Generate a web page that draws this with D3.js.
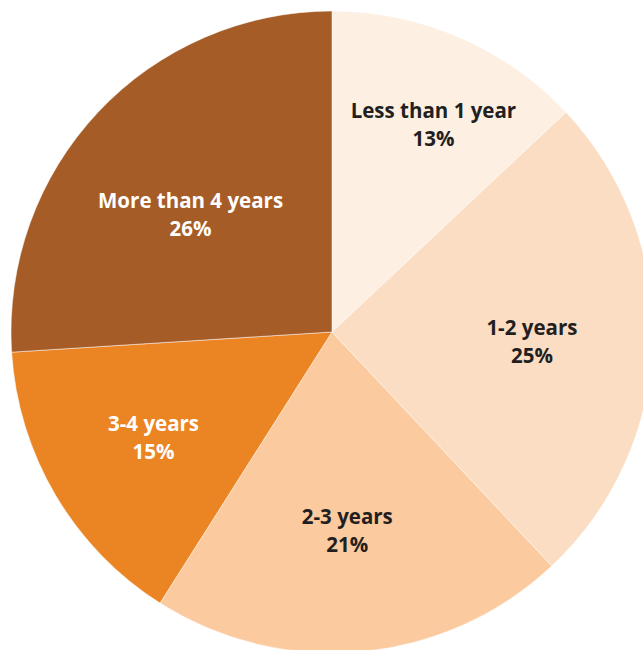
<!DOCTYPE html>
<html>
<head>
<meta charset="utf-8">
<script src="https://cdn.jsdelivr.net/npm/d3@7"></script>
<style>
  body { margin: 0; background: #fff; }
  svg { display: block; }
  text { font-family: "Open Sans", "DejaVu Sans", sans-serif; font-weight: 700; }
</style>
</head>
<body>
<svg width="643" height="650"></svg>
<script>
var categories = ["Less than 1 year", "1-2 years", "2-3 years", "3-4 years", "More than 4 years"];
var shares = [13, 25, 21, 15, 26];
var colors = ["#fdefe2", "#fbddc3", "#fbca9e", "#eb8423", "#a65c27"];
var textColors = ["#231f20", "#231f20", "#231f20", "#ffffff", "#ffffff"];

// label nudges off the arc centroid (layout only)
var labelNudge = [[20, -19], [-5, 4], [-4, -5], [-2, 2], [8, 23]];

var svg = d3.select("svg");
var cx = 332, cy = 332, radius = 321;

var data = categories.map(function(c, i){
  return {name: c, value: shares[i], fill: colors[i], ink: textColors[i], nudge: labelNudge[i]};
});

var pie = d3.pie().sort(null).value(function(d){ return d.value; });
var arc = d3.arc().innerRadius(0).outerRadius(radius);
var labelArc = d3.arc().innerRadius(205).outerRadius(205);

var g = svg.append("g").attr("transform", "translate(" + cx + "," + cy + ")");
var arcs = pie(data);

g.selectAll("path.slice")
  .data(arcs)
  .enter().append("path")
  .attr("class", "slice")
  .attr("d", arc)
  .style("fill", function(d){ return d.data.fill; })
  .style("stroke", "#fff")
  .style("stroke-width", 0.5);

var labels = g.selectAll("text.lbl")
  .data(arcs)
  .enter().append("text")
  .attr("class", "lbl")
  .attr("transform", function(d){
    var c = labelArc.centroid(d);
    return "translate(" + (c[0] + d.data.nudge[0]) + "," + (c[1] + d.data.nudge[1]) + ")";
  })
  .attr("text-anchor", "middle")
  .style("font-size", "20.5px")
  .style("fill", function(d){ return d.data.ink; });

labels.append("tspan")
  .attr("x", 0).attr("y", -7)
  .text(function(d){ return d.data.name; });
labels.append("tspan")
  .attr("x", 0).attr("y", 21)
  .text(function(d){ return d.data.value + "%"; });
</script>
</body>
</html>
